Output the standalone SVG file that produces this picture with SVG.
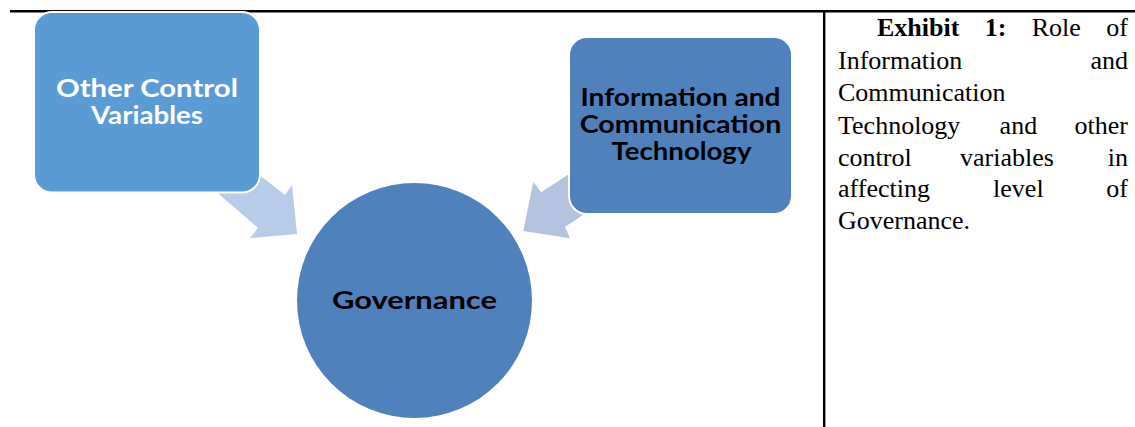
<svg xmlns="http://www.w3.org/2000/svg" width="1135" height="427" viewBox="0 0 1135 427">
<style>
.frame{stroke:#000;stroke-width:2.4;fill:none}
.nodeTxt{font-family:Lato,"Open Sans","Liberation Sans",sans-serif;font-weight:700;font-size:24.5px;text-anchor:middle}
.cap{font-family:"Liberation Serif","Times New Roman",serif;font-size:26px;fill:#000}
.box{stroke:#fff;stroke-width:2}
</style>
<rect width="1135" height="427" fill="#fff"/>
<g id="frame">
<line class="frame" x1="10" y1="11.3" x2="1135" y2="11.3"/>
<line class="frame" x1="824.2" y1="10" x2="824.2" y2="427"/>
</g>
<g id="connectors">
<polygon fill="#B7CCE8" points="197,175 240,157 262,177 285,195 292,185 297,234 250,238 258,228 220,195"/>
<polygon fill="#B3C2DE" points="585,163 597,205 576.7,219.3 565,226.7 570,238.3 523.3,231 533.3,181.7 541,192.3 565,176.7"/>
</g>
<g id="node-other">
<rect class="box" x="34" y="12" width="226" height="180.5" rx="18" fill="#5B9BD5"/>
<text class="nodeTxt" fill="#fff"><tspan x="147" y="96.7" textLength="182" lengthAdjust="spacingAndGlyphs">Other Control</tspan><tspan x="147" y="124.3" textLength="112" lengthAdjust="spacingAndGlyphs">Variables</tspan></text>
</g>
<g id="node-ict">
<rect class="box" x="569" y="37" width="223" height="177" rx="18" fill="#4F81BD"/>
<text class="nodeTxt" fill="#000"><tspan x="680.5" y="106" textLength="200" lengthAdjust="spacingAndGlyphs">Information and</tspan><tspan x="680.5" y="133.3" textLength="201.7" lengthAdjust="spacingAndGlyphs">Communication</tspan><tspan x="681.5" y="159.5" textLength="140" lengthAdjust="spacingAndGlyphs">Technology</tspan></text>
</g>
<g id="node-governance">
<circle cx="414.5" cy="300.5" r="117.5" fill="#4F81BD"/>
<text class="nodeTxt" fill="#000" x="414.5" y="309.3" textLength="165" lengthAdjust="spacingAndGlyphs">Governance</text>
</g>
<g id="caption" class="cap">
<text x="877" y="36" font-weight="700">Exhibit</text>
<text x="984.7" y="36" font-weight="700">1:</text>
<text x="1031.7" y="36">Role</text>
<text x="1128" y="36" text-anchor="end">of</text>
<text x="838" y="68.5">Information</text>
<text x="1128" y="68.5" text-anchor="end">and</text>
<text x="838" y="101">Communication</text>
<text x="838" y="133.5">Technology</text>
<text x="999.6" y="133.5">and</text>
<text x="1128" y="133.5" text-anchor="end">other</text>
<text x="838" y="165.5">control</text>
<text x="960" y="165.5">variables</text>
<text x="1128" y="165.5" text-anchor="end">in</text>
<text x="838" y="197">affecting</text>
<text x="993.1" y="197">level</text>
<text x="1128" y="197" text-anchor="end">of</text>
<text x="838" y="228.5">Governance.</text>
</g>
</svg>
